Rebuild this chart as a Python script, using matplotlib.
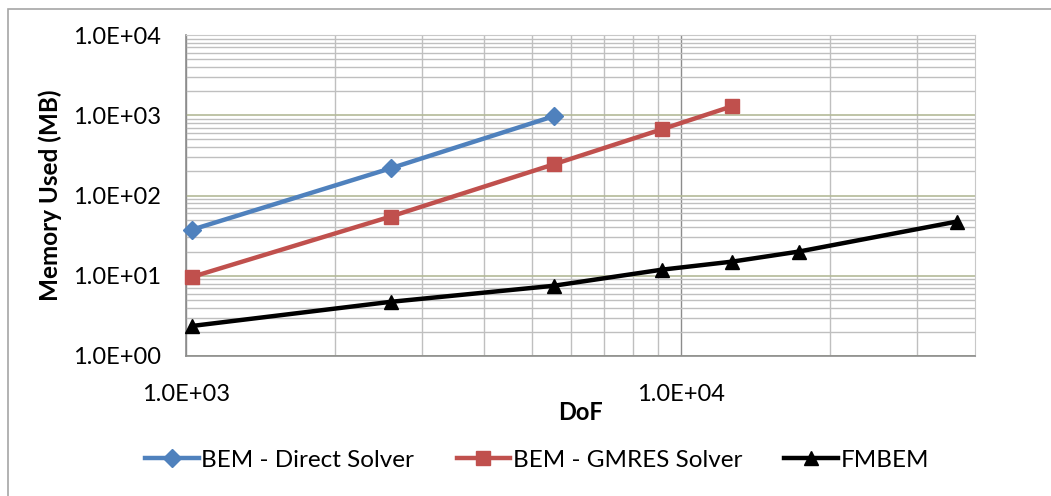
import numpy as np
import matplotlib
matplotlib.use("Agg")
from matplotlib import pyplot as plt
from matplotlib.patches import Rectangle
from matplotlib.ticker import LogLocator, FixedLocator, NullFormatter, FuncFormatter

plt.rcParams['font.family'] = ['Lato', 'DejaVu Sans']

# data
direct_dof = [1030, 2590, 5530]
direct_mem = [37.6, 218, 971]

gmres_dof = [1030, 2590, 5530, 9150, 12700]
gmres_mem = [9.7, 54.6, 244, 668, 1296]

fmbem_dof = [1030, 2590, 5530, 9150, 12700, 17300, 36100]
fmbem_mem = [2.37, 4.73, 7.5, 11.9, 15.0, 20.0, 47.3]

series_labels = ["BEM - Direct Solver", "BEM - GMRES Solver", "FMBEM"]

fig = plt.figure(figsize=(10.51, 4.96), dpi=100)
# outer chart border
fig.patches.append(Rectangle((8 / 1051, -0.1), 1.2, 1.1 - 9 / 496, transform=fig.transFigure,
                             fill=False, edgecolor='#a6a6a6', linewidth=1.2))

ax = fig.add_axes([186 / 1051, 1 - 356 / 496, (975 - 186) / 1051, (356 - 35) / 496])
ax.set_xscale('log')
ax.set_yscale('log')
ax.set_xlim(1e3, 3.93e4)
ax.set_ylim(1, 1e4)

# gridlines
ax.yaxis.set_minor_locator(LogLocator(base=10, subs=np.arange(2, 10)))
ax.xaxis.set_minor_locator(LogLocator(base=10, subs=np.arange(2, 10)))
ax.xaxis.set_major_locator(FixedLocator([1e3, 1e4]))
ax.yaxis.set_major_locator(FixedLocator([1, 10, 100, 1000, 10000]))
ax.grid(which='minor', axis='both', color='#bfbfbf', linewidth=1.0)
ax.grid(which='major', axis='y', color='#b4ba98', linewidth=1.2)
ax.grid(which='major', axis='x', color='#8c8c8c', linewidth=1.0)
ax.set_axisbelow(True)

fmt = FuncFormatter(lambda v, p: "%.1fE+%02d" % (v / 10 ** int(round(np.log10(v))), int(round(np.log10(v)))))
ax.xaxis.set_major_formatter(fmt)
ax.yaxis.set_major_formatter(fmt)
ax.xaxis.set_minor_formatter(NullFormatter())
ax.yaxis.set_minor_formatter(NullFormatter())
ax.tick_params(which='both', length=0, labelsize=17)
ax.tick_params(axis='x', pad=20)
ax.tick_params(axis='y', pad=18)

for s in ['top', 'right']:
    ax.spines[s].set_color('#c8c8c8')
for s in ['left', 'bottom']:
    ax.spines[s].set_color('#8c8c8c')
    ax.spines[s].set_linewidth(1.2)

ax.plot(direct_dof, direct_mem, color='#4f81bd', linewidth=3.2, marker='D', markersize=9,
        label=series_labels[0], clip_on=False, zorder=3)
ax.plot(gmres_dof, gmres_mem, color='#c0504d', linewidth=3.2, marker='s', markersize=10,
        label=series_labels[1], clip_on=False, zorder=3)
ax.plot(fmbem_dof, fmbem_mem, color='black', linewidth=3.2, marker='^', markersize=10,
        label=series_labels[2], clip_on=False, zorder=3)

ax.set_xlabel("DoF", fontsize=17, fontweight='bold', labelpad=-3)
ax.set_ylabel("Memory Used (MB)", fontsize=17.5, fontweight='bold')
ax.yaxis.set_label_coords(-0.157, 0.5)

fig.legend(loc='center', bbox_to_anchor=(0.511, 1 - 460 / 496), ncol=3, frameon=False,
           fontsize=17.5, handlelength=2.2, handletextpad=0.1, columnspacing=1.75)

fig.savefig("out.png", dpi=100)
